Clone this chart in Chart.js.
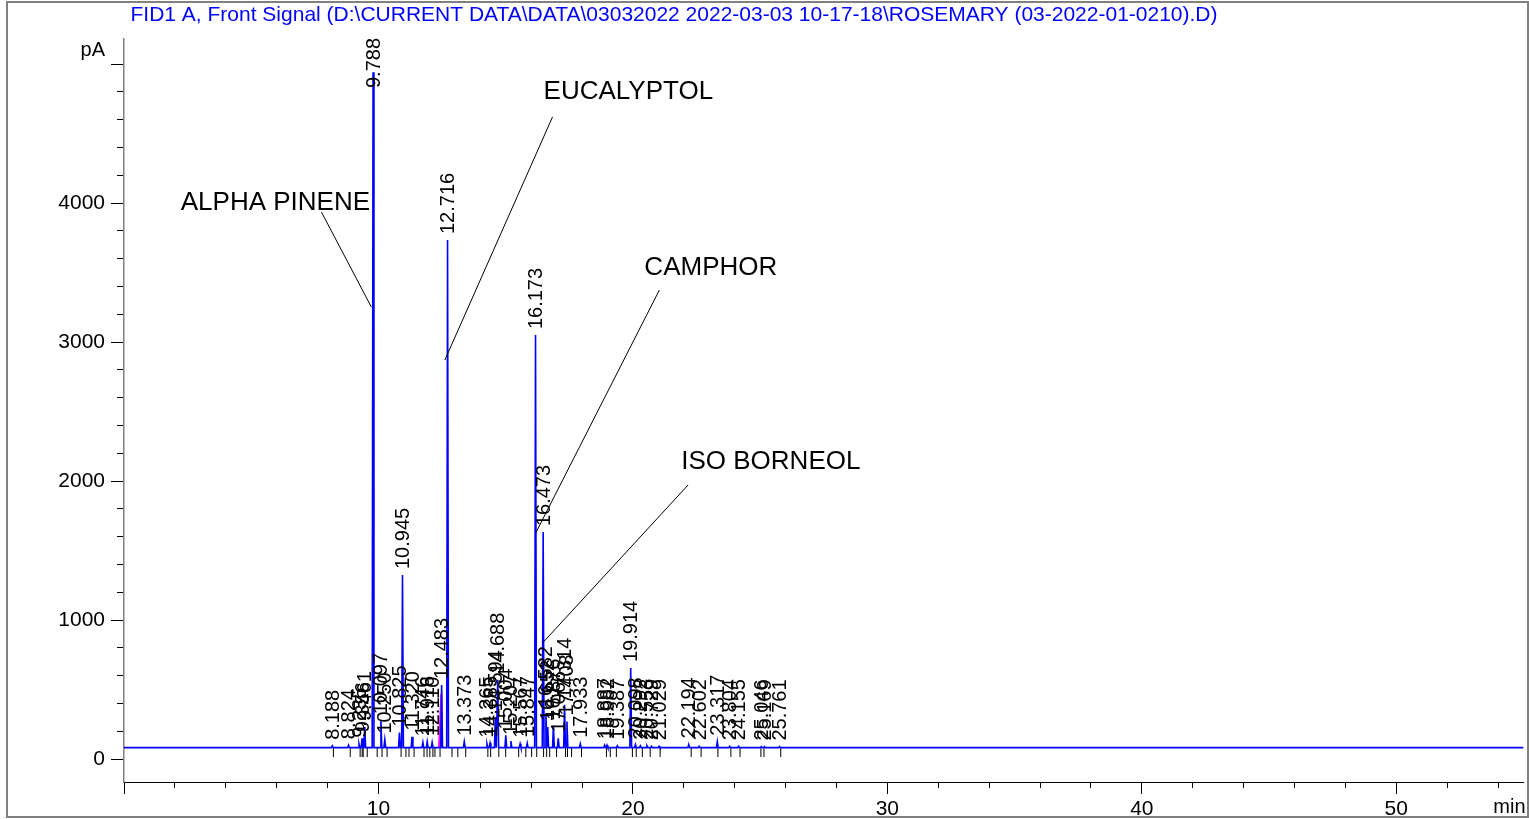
<!DOCTYPE html>
<html>
<head>
<meta charset="utf-8">
<script src="https://cdn.jsdelivr.net/npm/chart.js@4.4.1/dist/chart.umd.min.js"></script>
<style>
html, body { margin: 0; padding: 0; background: #fff; }
canvas { display: block; }
</style>
</head>
<body>
<canvas id="chrom" width="1529" height="819"></canvas>
<script>
const TITLE = 'FID1 A, Front Signal (D:\\CURRENT DATA\\DATA\\03032022 2022-03-03 10-17-18\\ROSEMARY (03-2022-01-0210).D)';

// run window (min) and signal range (pA)
const X_MIN = 0, X_MAX = 55;
const Y_MIN = -165, Y_MAX = 5180;
const BASELINE = 82;

// axis ticks
const xMajorTicks = [0, 10, 20, 30, 40, 50];
const xMinorStep = 2;
const yMajorTicks = [0, 1000, 2000, 3000, 4000, 5000];
const yLabelled = [0, 1000, 2000, 3000, 4000];
const yMinorStep = 200;

// integrated peaks: retention time (min) and apex height (pA)
const peakTimes = [8.188, 8.824, 9.235, 9.356, 9.461, 9.788, 10.097, 10.250, 10.825, 10.945,
  11.320, 11.746, 11.916, 12.110, 12.483, 12.716, 13.373, 14.265, 14.385, 14.594,
  14.688, 15.004, 15.207, 15.567, 15.847, 16.173, 16.473, 16.582, 16.652, 16.876,
  17.066, 17.314, 17.408, 17.933, 18.887, 18.982, 19.387, 19.914, 20.098, 20.292,
  20.553, 20.729, 21.029, 22.194, 22.602, 23.317, 23.804, 24.155, 25.046, 25.169, 25.761];
const peakHeights = [95, 100, 110, 150, 230, 4940, 280, 140, 190, 1324,
  160, 120, 125, 120, 532, 3734, 125, 110, 115, 300,
  570, 170, 130, 110, 115, 3050, 1633, 330, 230, 240,
  150, 390, 270, 110, 100, 100, 95, 655, 105, 95,
  95, 92, 92, 105, 92, 125, 92, 92, 90, 90, 90];

// peak start / stop event marks
const eventTimes = [8.23, 8.89, 9.28, 9.36, 9.40, 9.56, 9.95, 10.14, 10.34, 10.89, 11.08, 11.20,
  11.40, 11.79, 11.91, 12.02, 12.14, 12.22, 12.42, 12.89, 13.12, 13.43, 14.30, 14.41, 14.73,
  15.00, 15.51, 15.79, 16.02, 16.22, 16.49, 16.61, 16.73, 17.00, 17.35, 17.43, 17.59, 17.98,
  18.96, 19.11, 19.35, 19.98, 20.13, 20.37, 20.68, 21.07, 22.29, 22.68, 23.34, 23.85, 24.21,
  25.03, 25.15, 25.81];
const EVENT_LEVEL = 47;

// magenta integration trace under 12.483
const magentaTimes = [12.38, 12.47, 12.50];
const magentaValues = [BASELINE, 470, BASELINE];

// compound annotations
const annoLabels = ['ALPHA PINENE', 'EUCALYPTOL', 'CAMPHOR', 'ISO BORNEOL'];
const annoTextTime = [2.23, 16.49, 20.45, 21.90];
const annoTextValue = [4000, 4799, 3533, 2137];
const annoFromTime = [7.76, 16.84, 21.04, 22.17];
const annoFromValue = [3935, 4619, 3374, 1972];
const annoToTime = [9.72, 12.61, 16.18, 16.45];
const annoToValue = [3252, 2871, 1626, 835];

const FONT = "'Liberation Sans', Arial, sans-serif";
Chart.defaults.font.family = FONT;
Chart.defaults.color = '#000';

const HALF_WIDTH = 0.035;
const trace = [{ x: X_MIN, y: BASELINE }];
peakTimes.forEach((t, i) => {
  trace.push({ x: t - HALF_WIDTH, y: BASELINE }, { x: t, y: peakHeights[i] }, { x: t + HALF_WIDTH, y: BASELINE });
});
trace.push({ x: X_MAX, y: BASELINE });

const magenta = magentaTimes.map((t, i) => ({ x: t, y: magentaValues[i] }));
const events = eventTimes.map(t => ({ x: t, y: EVENT_LEVEL }));

function stepTicks(from, to, step) {
  const out = [];
  for (let v = from; v <= to; v += step) out.push({ value: v });
  return out;
}

const decorPlugin = {
  id: 'decor',
  beforeDraw(chart) {
    const ctx = chart.ctx;
    ctx.save();
    ctx.fillStyle = '#fff';
    ctx.fillRect(0, 0, chart.width, chart.height);
    ctx.restore();
  },
  afterDatasetsDraw(chart) {
    const { ctx, scales: { x, y } } = chart;
    ctx.save();

    // retention time labels
    ctx.font = '20px ' + FONT;
    ctx.fillStyle = '#000';
    ctx.textAlign = 'left';
    ctx.textBaseline = 'middle';
    peakTimes.forEach((t, i) => {
      const label = t.toFixed(3);
      const w = ctx.measureText(label).width;
      const px = x.getPixelForValue(t) + 1;
      const py = Math.max(y.getPixelForValue(peakHeights[i]) - 6, 38 + w);
      ctx.save();
      ctx.translate(px, py);
      ctx.rotate(-Math.PI / 2);
      ctx.fillText(label, 0, 0);
      ctx.restore();
    });

    // compound names
    ctx.font = '26px ' + FONT;
    ctx.strokeStyle = '#000';
    ctx.lineWidth = 1;
    annoLabels.forEach((name, i) => {
      ctx.fillText(name, x.getPixelForValue(annoTextTime[i]), y.getPixelForValue(annoTextValue[i]));
      ctx.beginPath();
      ctx.moveTo(x.getPixelForValue(annoFromTime[i]), y.getPixelForValue(annoFromValue[i]));
      ctx.lineTo(x.getPixelForValue(annoToTime[i]), y.getPixelForValue(annoToValue[i]));
      ctx.stroke();
    });
    ctx.restore();
  },
  afterDraw(chart) {
    const { ctx, chartArea } = chart;
    ctx.save();
    ctx.strokeStyle = '#808080';
    ctx.lineWidth = 2;
    ctx.strokeRect(7, 2, 1521, 815);

    ctx.fillStyle = '#0000ff';
    ctx.font = '21px ' + FONT;
    ctx.textAlign = 'center';
    ctx.textBaseline = 'middle';
    ctx.fillText(TITLE, 674, 15);

    ctx.fillStyle = '#000';
    ctx.font = '20px ' + FONT;
    ctx.textAlign = 'right';
    ctx.fillText('pA', 105, 50);
    ctx.fillText('min', chartArea.right + 2, 807);
    ctx.restore();
  }
};

new Chart(document.getElementById('chrom'), {
  type: 'scatter',
  data: {
    datasets: [
      {
        data: trace,
        showLine: true,
        borderColor: '#0000ff',
        borderWidth: 1.6,
        pointRadius: 0,
        tension: 0
      },
      {
        data: magenta,
        showLine: true,
        borderColor: '#ff00ff',
        borderWidth: 2,
        pointRadius: 0
      },
      {
        data: events,
        showLine: false,
        pointStyle: 'line',
        rotation: 90,
        radius: 4.5,
        borderColor: '#000',
        borderWidth: 1
      }
    ]
  },
  plugins: [decorPlugin],
  options: {
    responsive: false,
    animation: false,
    devicePixelRatio: 1,
    layout: { padding: { top: 39, right: 1, left: 0, bottom: 0 } },
    plugins: { legend: { display: false }, tooltip: { enabled: false } },
    scales: {
      x: {
        type: 'linear', position: 'bottom', weight: 1,
        min: X_MIN, max: X_MAX,
        grid: { drawOnChartArea: false, tickLength: 12, tickColor: '#000' },
        border: { color: '#000', width: 1 },
        ticks: {
          autoSkip: false, maxRotation: 0, padding: 3,
          font: { size: 21 }, color: '#000',
          callback: v => (v === 0 ? '' : v)
        },
        afterBuildTicks: s => { s.ticks = xMajorTicks.map(v => ({ value: v })); },
        afterFit: s => { s.height = 37; }
      },
      xMinor: {
        type: 'linear', position: 'bottom', weight: 0,
        min: X_MIN, max: X_MAX,
        grid: { drawOnChartArea: false, tickLength: 6, tickColor: '#000' },
        border: { display: false },
        ticks: { autoSkip: false, callback: () => '' },
        afterBuildTicks: s => { s.ticks = stepTicks(X_MIN, X_MAX, xMinorStep); },
        afterFit: s => { s.height = 0; }
      },
      y: {
        type: 'linear', position: 'left', weight: 1,
        min: Y_MIN, max: Y_MAX,
        grid: { drawOnChartArea: false, tickLength: 13, tickColor: '#000' },
        border: { color: '#808080', width: 1.5 },
        ticks: {
          autoSkip: false, padding: 6,
          font: { size: 21 }, color: '#000',
          callback: v => (yLabelled.includes(v) ? v : '')
        },
        afterBuildTicks: s => { s.ticks = yMajorTicks.map(v => ({ value: v })); },
        afterFit: s => { s.width = 124; }
      },
      yMinor: {
        type: 'linear', position: 'left', weight: 0,
        min: Y_MIN, max: Y_MAX,
        grid: { drawOnChartArea: false, tickLength: 7, tickColor: '#000' },
        border: { display: false },
        ticks: { autoSkip: false, callback: () => '' },
        afterBuildTicks: s => { s.ticks = stepTicks(0, 5000, yMinorStep); },
        afterFit: s => { s.width = 0; }
      }
    }
  }
});
</script>
</body>
</html>
